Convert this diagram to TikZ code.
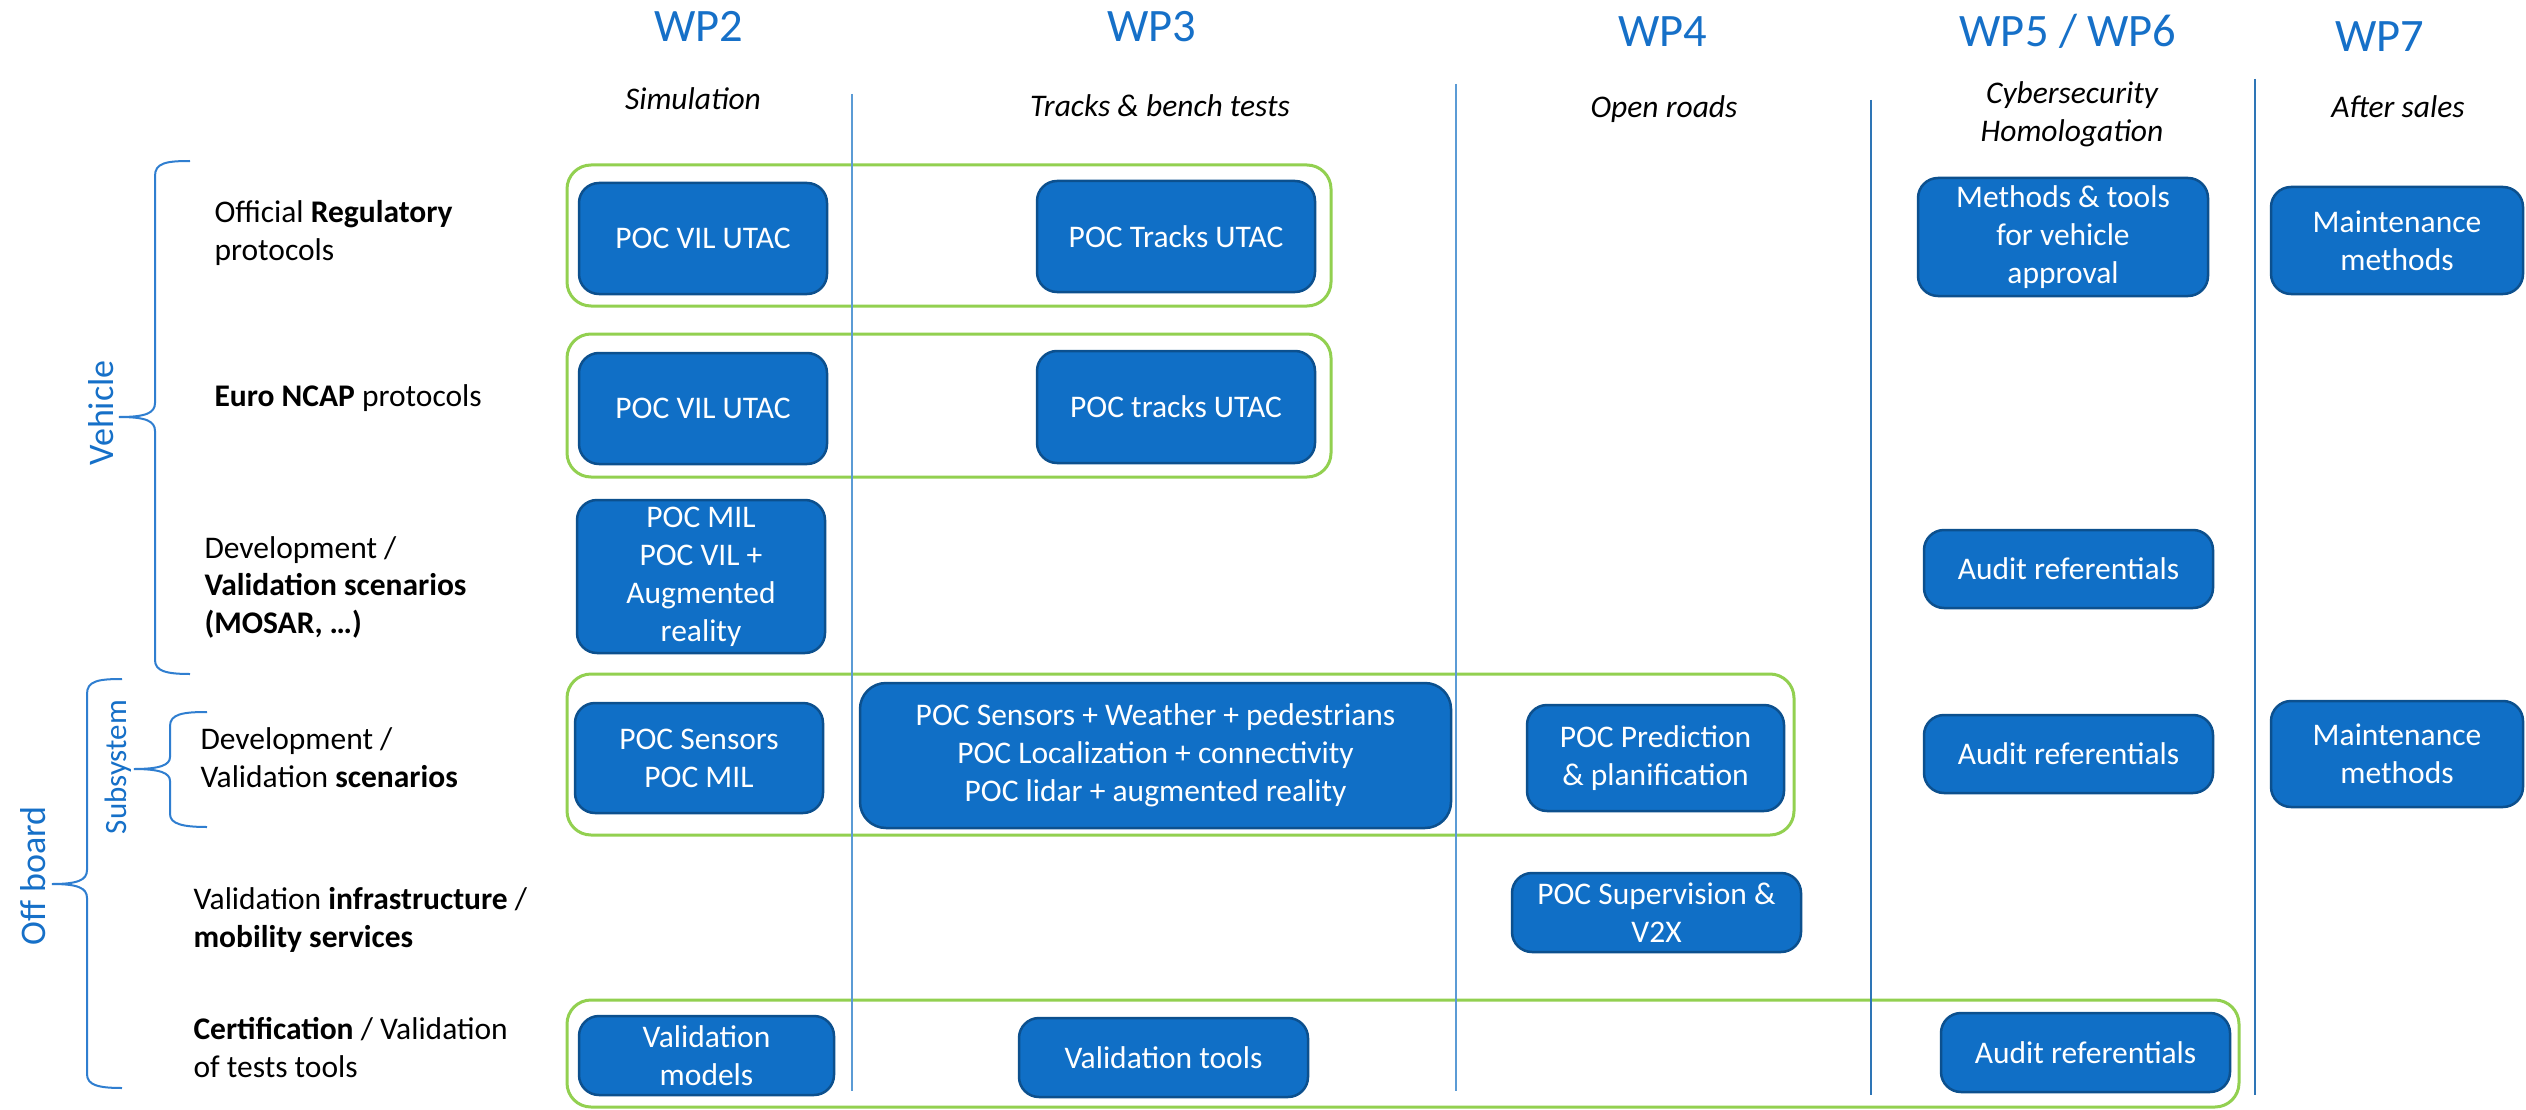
\documentclass[tikz,border=0pt]{standalone}
\usepackage{fontspec}
\setmainfont{Carlito}
\definecolor{boxfill}{RGB}{16,111,198}
\definecolor{boxline}{RGB}{12,80,142}
\definecolor{titleblue}{RGB}{22,112,200}
\definecolor{grp}{RGB}{146,208,80}
\definecolor{sepa}{RGB}{91,155,213}
\definecolor{sepb}{RGB}{46,117,182}
\definecolor{bracec}{RGB}{47,126,208}
\tikzset{
  box/.style={draw=boxline, line width=2.5pt, fill=boxfill, rounded corners=20pt,
    text=white, align=center, inner sep=0pt, font=\fontsize{31.5}{38}\selectfont},
  group/.style={draw=grp, line width=3pt, rounded corners=24pt, inner sep=0pt},
  wptitle/.style={text=titleblue, font=\fontsize{46.5}{56}\selectfont, anchor=base},
  wpsub/.style={font=\fontsize{31.5}{38}\selectfont\itshape, align=center, anchor=base},
  rowlabel/.style={font=\fontsize{31.5}{37.5}\selectfont, align=left, anchor=base west},
  sidelabel/.style={text=titleblue, rotate=90, anchor=center},
  sepline/.style={line width=2pt},
  bracepath/.style={draw=bracec, line width=2pt}
}
\begin{document}
\begin{tikzpicture}[x=1pt,y=-1pt]
\useasboundingbox (0,0) rectangle (2526,1110);
\fill[white] (0,0) rectangle (2526,1110);

% work package titles
\node[wptitle] (wp2) at (699,42) {WP2};
\node[wptitle] (wp3) at (1152,42) {WP3};
\node[wptitle] (wp4) at (1663,47) {WP4};
\node[wptitle] (wp56) at (2068,47) {WP5 / WP6};
\node[wptitle] (wp7) at (2380,52) {WP7};

% column themes (multi-line nodes sit on the baseline of their last line)
\node[wpsub] (simu) at (693,110) {Simulation};
\node[wpsub] (tracks) at (1160,117) {Tracks \& bench tests};
\node[wpsub] (roads) at (1664,118) {Open roads};
\node[wpsub] (cyber) at (2072,142) {Cybersecurity\\Homologation};
\node[wpsub] (after) at (2398,118) {After sales};

% green groupings
\node[group, minimum width=764pt, minimum height=141pt] (g1) at (949,235.5) {};
\node[group, minimum width=764pt, minimum height=143pt] (g2) at (949,405.5) {};
\node[group, minimum width=1227pt, minimum height=161pt] (g4) at (1180.5,754.5) {};
\node[group, minimum width=1672pt, minimum height=107pt] (g6) at (1403,1053.5) {};

% column separators
\draw[sepline, draw=sepa] (852,94) -- (852,1091);
\draw[sepline, draw=sepa] (1456,84) -- (1456,1091);
\draw[sepline, draw=sepb] (1871,100) -- (1871,1095);
\draw[sepline, draw=sepb] (2255,79) -- (2255,1095);

% row 1: regulatory protocols
\node[box, minimum width=248pt, minimum height=111pt] (vil1) at (703,238.5) {POC VIL UTAC};
\node[box, minimum width=278pt, minimum height=111pt] (trk1) at (1176,236.5) {POC Tracks UTAC};
\node[box, minimum width=290pt, minimum height=118pt] (meth) at (2063,237) {Methods \& tools\\for vehicle\\approval};
\node[box, minimum width=252pt, minimum height=107pt] (mnt1) at (2397,240.5) {Maintenance\\methods};

% row 2: Euro NCAP
\node[box, minimum width=248pt, minimum height=111pt] (vil2) at (703,408.5) {POC VIL UTAC};
\node[box, minimum width=278pt, minimum height=112pt] (trk2) at (1176,407) {POC tracks UTAC};

% row 3: vehicle scenarios
\node[box, minimum width=248pt, minimum height=153pt] (mil) at (701,576.5) {POC MIL\\POC VIL +\\Augmented\\reality};
\node[box, minimum width=289pt, minimum height=78pt] (aud1) at (2068.5,569) {Audit referentials};

% row 4: subsystem scenarios
\node[box, minimum width=248pt, minimum height=110pt] (sens) at (699,758) {POC Sensors\\POC MIL};
\node[box, minimum width=591pt, minimum height=145pt, rounded corners=26pt] (big) at (1155.5,755.5)
  {POC Sensors + Weather + pedestrians\\POC Localization + connectivity\\POC lidar + augmented reality};
\node[box, minimum width=257pt, minimum height=106pt] (pred) at (1655.5,758) {POC Prediction\\\& planification};
\node[box, minimum width=289pt, minimum height=78pt] (aud2) at (2068.5,754) {Audit referentials};
\node[box, minimum width=252pt, minimum height=106pt] (mnt2) at (2397,754) {Maintenance\\methods};

% row 5: infrastructure
\node[box, minimum width=289pt, minimum height=79pt] (sup) at (1656.5,912.5) {POC Supervision \&\\V2X};

% row 6: certification
\node[box, minimum width=255pt, minimum height=79pt] (vmod) at (706.5,1055.5) {Validation\\models};
\node[box, minimum width=289pt, minimum height=79pt] (vtool) at (1163.5,1057.5) {Validation tools};
\node[box, minimum width=289pt, minimum height=79pt] (aud3) at (2085.5,1052.5) {Audit referentials};

% row labels (placed on the baseline of the last line)
\node[rowlabel] (r1) at (211,260) {Official \textbf{Regulatory}\\protocols};
\node[rowlabel] (r2) at (211,406) {\textbf{Euro NCAP} protocols};
\node[rowlabel] (r3) at (201,633) {Development /\\\textbf{Validation scenarios}\\\textbf{(MOSAR, …)}};
\node[rowlabel] (r4) at (197,787) {Development /\\Validation \textbf{scenarios}};
\node[rowlabel] (r5) at (190,947) {Validation \textbf{infrastructure} /\\\textbf{mobility services}};
\node[rowlabel] (r6) at (190,1077) {\textbf{Certification} / Validation\\of tests tools};

% grouping braces
\draw[bracepath] (190,161) .. controls (166,161) and (155,163) .. (155,176) -- (155,403)
  .. controls (155,413) and (146,417) .. (119,417) .. controls (146,417) and (155,421) .. (155,431)
  -- (155,660) .. controls (155,671) and (166,674) .. (190,674);
\draw[bracepath] (122,679) .. controls (98,679) and (87,681) .. (87,694) -- (87,870)
  .. controls (87,880) and (78,884) .. (52,884) .. controls (78,884) and (87,888) .. (87,898)
  -- (87,1074) .. controls (87,1085) and (98,1088) .. (122,1088);
\draw[bracepath] (207,712) .. controls (183,712) and (170,714) .. (170,726) -- (170,757)
  .. controls (170,765) and (160,769) .. (134,769) .. controls (160,769) and (170,773) .. (170,781)
  -- (170,814) .. controls (170,824) and (183,827) .. (207,827);

% side labels
\node[sidelabel, font=\fontsize{36}{43}\selectfont] (veh) at (101,413) {Vehicle};
\node[sidelabel, font=\fontsize{36}{43}\selectfont] (off) at (33,876) {Off board};
\node[sidelabel, font=\fontsize{31}{37}\selectfont] (subs) at (118,767) {Subsystem};
\end{tikzpicture}
\end{document}
